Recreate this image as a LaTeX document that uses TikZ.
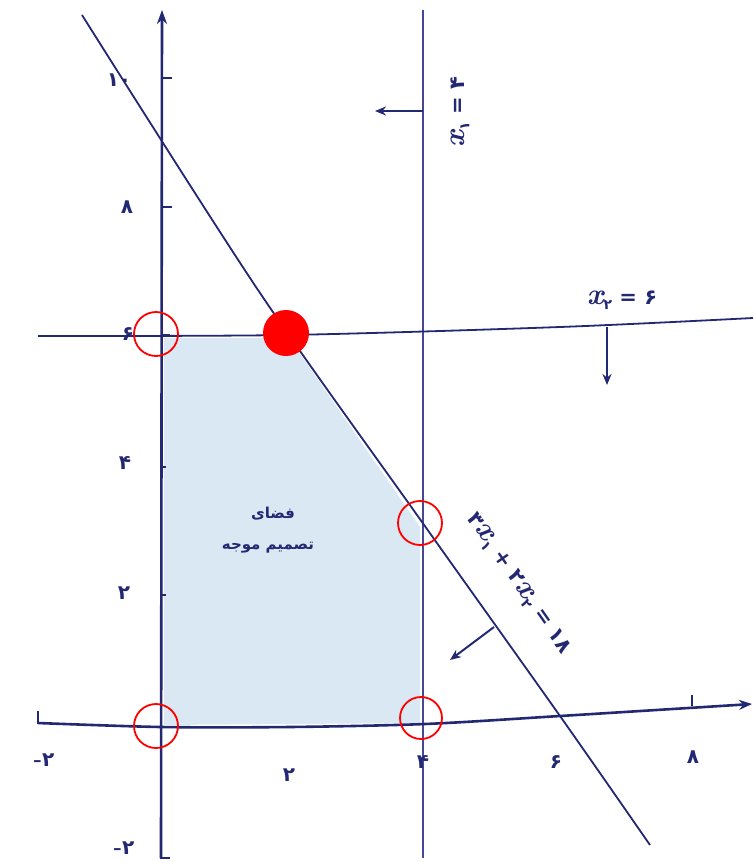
\documentclass[tikz,border=0pt]{standalone}
\usepackage{fontspec}
\usetikzlibrary{arrows.meta}
\newfontfamily\pfont[Script=Arabic]{DejaVu Sans}
\TeXXeTstate=1
\definecolor{navy}{RGB}{35,40,115}
\definecolor{lnavy}{RGB}{70,72,150}
\definecolor{regionblue}{RGB}{218,232,243}
\definecolor{mred}{RGB}{255,0,0}
\tikzset{
  axisline/.style={draw=navy,line width=2.6pt},
  cline/.style={draw=navy,line width=1.8pt},
  vline/.style={draw=lnavy,line width=1.8pt},
  arr/.style={draw=navy,line width=2pt,-{Stealth[length=11pt,width=9pt]}},
  tickl/.style={text=navy,font=\pfont\bfseries\fontsize{20}{20}\selectfont,inner sep=0pt},
  eqlabel/.style={text=navy,font=\pfont\bfseries\fontsize{21}{21}\selectfont,inner sep=0pt},
  regtext/.style={text=navy,font=\pfont\bfseries\fontsize{15}{15}\selectfont,inner sep=0pt},
  corner/.style={draw=mred,line width=1.8pt},
  opt/.style={fill=mred},
}
\newcommand{\pd}[1]{{\pfont\bfseries #1}}
\newcommand{\vx}{{\rmfamily\itshape\fontsize{30}{30}\selectfont x}}
\newcommand{\psub}[1]{\raisebox{-5pt}{\pfont\bfseries\fontsize{14}{14}\selectfont #1}}
\newcommand{\mns}{{\rmfamily\bfseries\fontsize{22}{22}\selectfont -}}
\begin{document}
\begin{tikzpicture}[x=1pt,y=-1pt]
\fill[white] (0,0) rectangle (753,862);
\useasboundingbox (0,0) rectangle (753,862);
% key points
\coordinate (O) at (161,726);
\coordinate (A) at (161,336);
\coordinate (B) at (287,335);
\coordinate (C) at (422,523);
\coordinate (D) at (422,723);
% feasible region
\fill[regionblue] (164,338) -- (164,725) -- (420,723) -- (420,527) -- (289,338) -- cycle;
% x1 = 4
\coordinate (v1) at (423,10);
\coordinate (v2) at (423,858);
\draw[vline] (v1) -- (v2);
% x2 = 6 line
\draw[cline] plot[smooth] coordinates {(38,336) (287,335) (560,327) (753,318)};
% 3x1+2x2=18
\draw[cline] plot[smooth] coordinates {(82,15) (258,290) (422,522) (560,716) (650,845)};
% x axis
\draw[axisline,-{Stealth[length=13pt,width=10pt]}] plot[smooth] coordinates {(38,723) (161,727) (290,727) (425,724) (560,716) (752,704)};
\draw[axisline] (38,724) -- (38,711);
\draw[axisline,line width=2pt] (692,706) -- (692,695);
% y axis
\draw[axisline,-{Stealth[length=14pt,width=10pt]}] (161,858) -- (162,10);
\draw[axisline] (160,858) -- (170,858);
\foreach \yy/\ll in {78/11,207/11,335/9,467/5,595/5}{
  \draw[axisline,line width=2pt] (161,\yy) -- ++(\ll,0);
}
% tick labels y
\node[tickl] (y10) at (119,80) {\pd{۱۰}};
\node[tickl] (y8) at (127,207) {\pd{۸}};
\node[tickl] (y6) at (128,334) {\pd{۶}};
\node[tickl] (y4) at (125,463) {\pd{۴}};
\node[tickl] (y2) at (124,593) {\pd{۲}};
\node[tickl] (ym2) at (124,848) {\mns\pd{۲}};
% tick labels x
\node[tickl] (xm2) at (44,760) {\mns\pd{۲}};
\node[tickl] (x2) at (289,775) {\pd{۲}};
\node[tickl] (x4) at (423,762) {\pd{۴}};
\node[tickl] (x6) at (556,762) {\pd{۶}};
\node[tickl] (x8) at (693,757) {\pd{۸}};
% direction arrows
\coordinate (a1s) at (423,111); \coordinate (a1e) at (375,111);
\draw[arr] (a1s) -- (a1e);
\coordinate (a2s) at (607,327); \coordinate (a2e) at (607,385);
\draw[arr] (a2s) -- (a2e);
\coordinate (a3s) at (494,627); \coordinate (a3e) at (450,660);
\draw[arr] (a3s) -- (a3e);
% constraint labels
\node[eqlabel,rotate=90] (l1) at (460,112) {\vx\psub{۱}\ \pd{=}\ \pd{۴}};
\node[eqlabel] (l2) at (622,300) {\vx\psub{۲}\ \pd{=}\ \pd{۶}};
\node[eqlabel,rotate=-55] (l3) at (518,584) {\pd{۳}\vx\psub{۱}\ \pd{+}\ \pd{۲}\vx\psub{۲}\ \pd{=}\ \pd{۱۸}};
% region text
\node[regtext] (r1) at (273,514) {\beginR فضای\endR};
\node[regtext] (r2) at (268,548) {\beginR تصمیم موجه\endR};
% red circles
\draw[corner] (A) ++(-5,-2) circle (22);
\draw[corner] (O) ++(-5,0) circle (22);
\draw[corner] (D) ++(-1,-5) circle (21);
\draw[corner] (C) ++(-2,0) circle (22);
\fill[opt] (B) ++(-1,-2) circle (23);
\end{tikzpicture}
\end{document}
